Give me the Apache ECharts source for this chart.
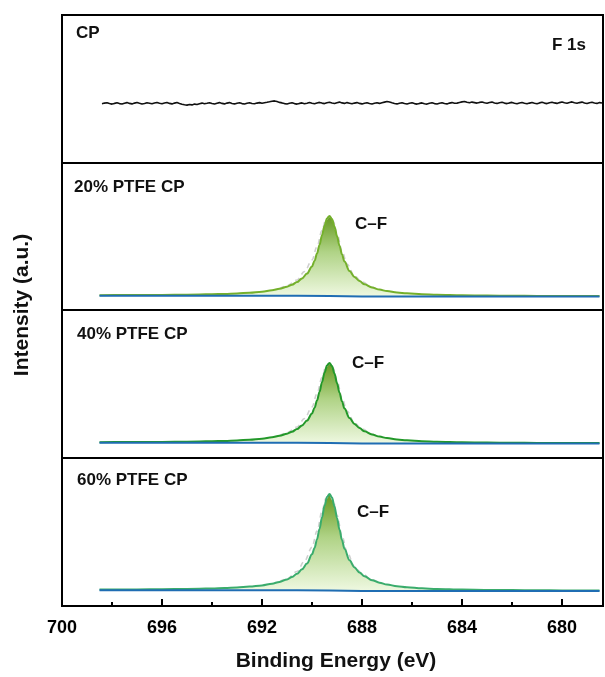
<!DOCTYPE html>
<html>
<head>
<meta charset="utf-8">
<script src="https://cdn.jsdelivr.net/npm/echarts@6/dist/echarts.min.js"></script>
<style>
  html, body { margin: 0; padding: 0; background: #ffffff; }
  #chart { width: 605px; height: 677px; }
</style>
</head>
<body>
<div id="chart"></div>
<script>
// ---- F 1s spectra data (binding energy in eV, intensity in arbitrary units) ----

// Sampling energies used for the fitted C–F envelopes
const FIT_ENERGY = [
  698.5, 697.5, 696.5, 695.5, 694.5, 694.0, 693.5, 693.0, 692.5, 692.0,
  691.6, 691.3, 691.0, 690.8, 690.6, 690.4, 690.2, 690.0, 689.9, 689.8,
  689.7, 689.6, 689.5, 689.4, 689.3, 689.2, 689.1, 689.0, 688.9, 688.8,
  688.7, 688.5, 688.3, 688.1, 687.9, 687.6, 687.3, 687.0, 686.6, 686.2,
  685.6, 685.0, 684.0, 683.0, 682.0, 681.0, 680.0, 679.0, 678.5
];

// Fitted C–F envelopes
const PTFE20_FIT = [
  14.8, 14.9, 15.0, 15.2, 15.5, 15.8, 16.1, 16.6, 17.3, 18.3,
  19.7, 21.2, 23.3, 25.3, 27.9, 31.6, 36.4, 43.6, 49.2, 56.4,
  65.1, 74.8, 84.3, 91.6, 94.1, 91.0, 83.5, 74.0, 64.3, 55.6,
  48.4, 39.0, 33.1, 28.9, 25.7, 22.5, 20.4, 18.9, 17.5, 16.7,
  15.8, 15.2, 14.7, 14.4, 14.2, 14.1, 14.0, 14.0, 13.9
];
const PTFE40_FIT = [
  15.8, 15.9, 16.0, 16.2, 16.5, 16.8, 17.1, 17.6, 18.3, 19.3,
  20.7, 22.2, 24.3, 26.3, 28.9, 32.6, 37.4, 44.6, 50.2, 57.4,
  66.1, 75.8, 85.3, 92.6, 95.1, 92.0, 84.5, 75.0, 65.3, 56.6,
  49.4, 40.0, 34.1, 29.9, 26.7, 23.5, 21.4, 19.9, 18.5, 17.7,
  16.8, 16.2, 15.7, 15.4, 15.2, 15.1, 15.0, 15.0, 14.9
];
const PTFE60_FIT = [
  16.4, 16.5, 16.7, 16.9, 17.3, 17.5, 17.9, 18.5, 19.4, 20.6,
  22.3, 24.1, 26.6, 29.0, 32.2, 36.7, 42.4, 51.7, 57.9, 66.6,
  77.1, 88.8, 100.2, 109.0, 112.1, 108.4, 99.5, 88.1, 76.4, 65.9,
  57.2, 45.7, 38.6, 33.5, 29.7, 25.8, 23.3, 21.5, 19.8, 18.8,
  17.7, 17.0, 16.4, 16.1, 15.9, 15.7, 15.6, 15.5, 15.5
];

// Measured spectra around the peak (dashed)
const RAW_ENERGY = [
  691.3, 691.0, 690.6, 690.3, 690.0, 689.8, 689.6, 689.45, 689.3,
  689.15, 689.0, 688.8, 688.6, 688.3, 688.0, 687.6, 687.3
];
const PTFE20_RAW = [21.2, 24.3, 30.0, 38.5, 50.0, 63.3, 79.5, 90.2, 93.6, 88.6, 76.6, 59.2, 45.9, 34.0, 28.0, 22.8, 20.4];
const PTFE40_RAW = [22.2, 25.3, 31.0, 39.5, 51.0, 64.3, 80.5, 91.2, 94.6, 89.6, 77.6, 60.2, 46.9, 35.0, 29.0, 23.8, 21.4];
const PTFE60_RAW = [24.1, 27.2, 34.5, 45.0, 58.8, 74.9, 94.5, 107.3, 111.1, 105.5, 91.0, 70.1, 54.1, 39.5, 32.3, 26.2, 23.3];

// Shirley-type backgrounds
const BG_ENERGY = [698.5, 690.6, 689.3, 688.0, 678.5];
const PTFE20_BG = [14.3, 14.2, 13.9, 13.5, 13.4];
const PTFE40_BG = [15.3, 15.2, 14.9, 14.5, 14.4];
const PTFE60_BG = [15.8, 15.7, 15.4, 15.0, 14.9];

// Bare CP: no fluorine signal, noise only (0.1 eV steps from 698.4 eV)
const CP_START = 698.4;
const CP_STEP = 0.1;
const CP_COUNTS = [
  59.2, 59.9, 60.3, 59.5, 58.9, 59.6, 60.2, 59.4, 59.0, 59.8,
  60.4, 59.6, 59.1, 59.9, 60.5, 59.7, 59.0, 59.5, 60.2, 59.8,
  59.2, 59.9, 60.6, 59.8, 59.3, 60.0, 60.5, 59.6, 59.1, 59.9,
  60.5, 59.6, 58.8, 58.2, 57.9, 58.5, 58.1, 58.9, 58.5, 59.3,
  59.9, 59.2, 59.7, 60.3, 59.5, 59.0, 59.8, 60.4, 59.6, 59.1,
  59.9, 60.4, 59.5, 59.1, 59.8, 60.3, 59.4, 59.0, 59.7, 60.2,
  59.5, 59.2, 59.9, 60.4, 59.8, 60.3, 60.7, 61.2, 61.8, 62.1,
  61.4, 60.6, 60.1, 59.4, 59.0, 59.7, 60.2, 59.4, 58.9, 59.6,
  60.1, 59.3, 59.8, 60.5, 59.7, 59.2, 60.0, 60.6, 59.9, 59.4,
  60.2, 60.8, 60.0, 59.5, 60.3, 60.9, 60.1, 59.6, 60.4, 59.8,
  59.2, 59.9, 60.4, 59.6, 59.1, 59.8, 60.3, 59.5, 59.0, 59.7,
  60.2, 59.6, 60.3, 60.9, 61.5, 61.0, 60.2, 59.5, 59.1, 59.8,
  60.3, 59.5, 59.0, 59.7, 60.2, 59.4, 58.9, 59.6, 60.1, 59.3,
  58.9, 59.7, 60.2, 59.4, 59.0, 59.8, 60.3, 59.5, 59.1, 59.9,
  60.4, 59.7, 59.9, 60.5, 61.1, 61.5, 60.7, 60.2, 60.9, 60.4,
  59.9, 60.6, 61.0, 60.2, 59.8, 60.5, 60.9, 60.0, 59.6, 60.3,
  60.7, 59.9, 59.4, 60.1, 60.6, 59.8, 59.3, 60.0, 60.5, 59.7,
  59.2, 59.9, 60.5, 59.8, 59.3, 60.1, 60.7, 59.9, 59.4, 60.2,
  60.8, 60.1, 59.6, 60.4, 61.0, 60.2, 59.7, 60.5, 61.1, 60.3,
  59.7, 60.4, 60.9, 60.0, 59.5, 60.3, 60.8, 60.0, 59.6, 60.4,
  60.0
];

// Axis ticks
const MAJOR_TICKS = [700, 696, 692, 688, 684, 680];
const MINOR_TICKS = [698, 694, 690, 686, 682];

// Panel captions
const SAMPLE_NAMES = ['CP', '20% PTFE CP', '40% PTFE CP', '60% PTFE CP'];
const PEAK_NAME = 'C–F';
const REGION_NAME = 'F 1s';

// ---- layout ----
const X_MIN = 678.36, X_MAX = 700;
const LEFT = 62, WIDTH = 541;
const PANELS = [
  { top: 15, height: 148 },
  { top: 163, height: 147 },
  { top: 310, height: 148 },
  { top: 458, height: 148 }
];
const FONT = '"Liberation Sans", Arial, sans-serif';

const pair = (xs, ys) => xs.map((x, i) => [x, ys[i]]);
const cpData = CP_COUNTS.map((v, i) => [+(CP_START - i * CP_STEP).toFixed(2), v]);

const fillGradient = new echarts.graphic.LinearGradient(0, 0, 0, 1, [
  { offset: 0, color: '#659920' },
  { offset: 0.45, color: '#b0d386' },
  { offset: 1, color: '#eef8e0' }
]);

const grids = PANELS.map(p => ({
  left: LEFT, width: WIDTH, top: p.top, height: p.height,
  show: true, borderColor: '#000', borderWidth: 2,
  backgroundColor: 'transparent', containLabel: false, outerBoundsMode: 'none'
}));

const xAxes = PANELS.map((p, i) => ({
  type: 'value', gridIndex: i, min: X_MIN, max: X_MAX, inverse: true,
  show: i === 3, position: 'bottom',
  axisLine: { show: true, onZero: false, lineStyle: { color: '#000', width: 2 } },
  axisTick: { show: true, inside: true, length: 7, lineStyle: { color: '#000', width: 2 }, customValues: MAJOR_TICKS },
  axisLabel: {
    show: true, customValues: MAJOR_TICKS, margin: 13,
    color: '#000', fontSize: 18, fontWeight: 'bold', fontFamily: FONT
  },
  splitLine: { show: false }
}));
// minor ticks on the bottom axis
xAxes.push({
  type: 'value', gridIndex: 3, min: X_MIN, max: X_MAX, inverse: true, position: 'bottom',
  axisLine: { show: false },
  axisTick: { show: true, inside: true, length: 4, lineStyle: { color: '#000', width: 2 }, customValues: MINOR_TICKS },
  axisLabel: { show: false },
  splitLine: { show: false }
});

const yAxes = PANELS.map((p, i) => ({
  type: 'value', gridIndex: i, min: 0, max: p.height, show: false, splitLine: { show: false }
}));

function peakSeries(i, fit, raw, bg, lineColor, base) {
  return [
    {
      type: 'line', xAxisIndex: i, yAxisIndex: i, data: pair(FIT_ENERGY, fit),
      smooth: 0.35, smoothMonotone: 'x', symbol: 'none', silent: true,
      lineStyle: { width: 0 },
      areaStyle: { color: fillGradient, origin: base, opacity: 1 }, z: 2
    },
    {
      type: 'line', xAxisIndex: i, yAxisIndex: i, data: pair(RAW_ENERGY, raw),
      smooth: 0.35, smoothMonotone: 'x', symbol: 'none', silent: true,
      lineStyle: { color: '#cfcfcf', width: 1.6, type: [5, 4] }, z: 3
    },
    {
      type: 'line', xAxisIndex: i, yAxisIndex: i, data: pair(FIT_ENERGY, fit),
      smooth: 0.35, smoothMonotone: 'x', symbol: 'none', silent: true,
      lineStyle: { color: lineColor, width: 2 }, z: 4
    },
    {
      type: 'line', xAxisIndex: i, yAxisIndex: i, data: pair(BG_ENERGY, bg),
      symbol: 'none', silent: true,
      lineStyle: { color: '#1f6db3', width: 2 }, z: 5
    }
  ];
}

const series = [
  {
    type: 'line', xAxisIndex: 0, yAxisIndex: 0, data: cpData,
    symbol: 'none', silent: true,
    lineStyle: { color: '#111', width: 1.6 }, z: 3
  },
  ...peakSeries(1, PTFE20_FIT, PTFE20_RAW, PTFE20_BG, '#74b02c', 13.9),
  ...peakSeries(2, PTFE40_FIT, PTFE40_RAW, PTFE40_BG, '#23982a', 14.9),
  ...peakSeries(3, PTFE60_FIT, PTFE60_RAW, PTFE60_BG, '#3aac6c', 15.4)
];

function label(text, x, y, size, align, extra) {
  return Object.assign({
    type: 'text', x: x, y: y, silent: true, z: 10,
    style: {
      text: text, fill: '#111',
      font: 'bold ' + size + 'px ' + FONT,
      align: align, verticalAlign: 'middle',
      textAlign: align, textVerticalAlign: 'middle'
    }
  }, extra || {});
}

const graphics = [
  label(SAMPLE_NAMES[0], 76, 33, 17, 'left'),
  label(REGION_NAME, 586, 45, 17, 'right'),
  label(SAMPLE_NAMES[1], 74, 187, 17, 'left'),
  label(SAMPLE_NAMES[2], 77, 334, 17, 'left'),
  label(SAMPLE_NAMES[3], 77, 480, 17, 'left'),
  label(PEAK_NAME, 355, 224, 17, 'left'),
  label(PEAK_NAME, 352, 363, 17, 'left'),
  label(PEAK_NAME, 357, 512, 17, 'left'),
  label('Binding Energy (eV)', 336, 661, 21, 'center'),
  label('Intensity (a.u.)', 22, 305, 21, 'center', { rotation: Math.PI / 2 })
];

const chart = echarts.init(document.getElementById('chart'), null, { renderer: 'canvas' });
chart.setOption({
  animation: false,
  backgroundColor: '#ffffff',
  grid: grids,
  xAxis: xAxes,
  yAxis: yAxes,
  series: series,
  graphic: { elements: graphics }
});
</script>
</body>
</html>
